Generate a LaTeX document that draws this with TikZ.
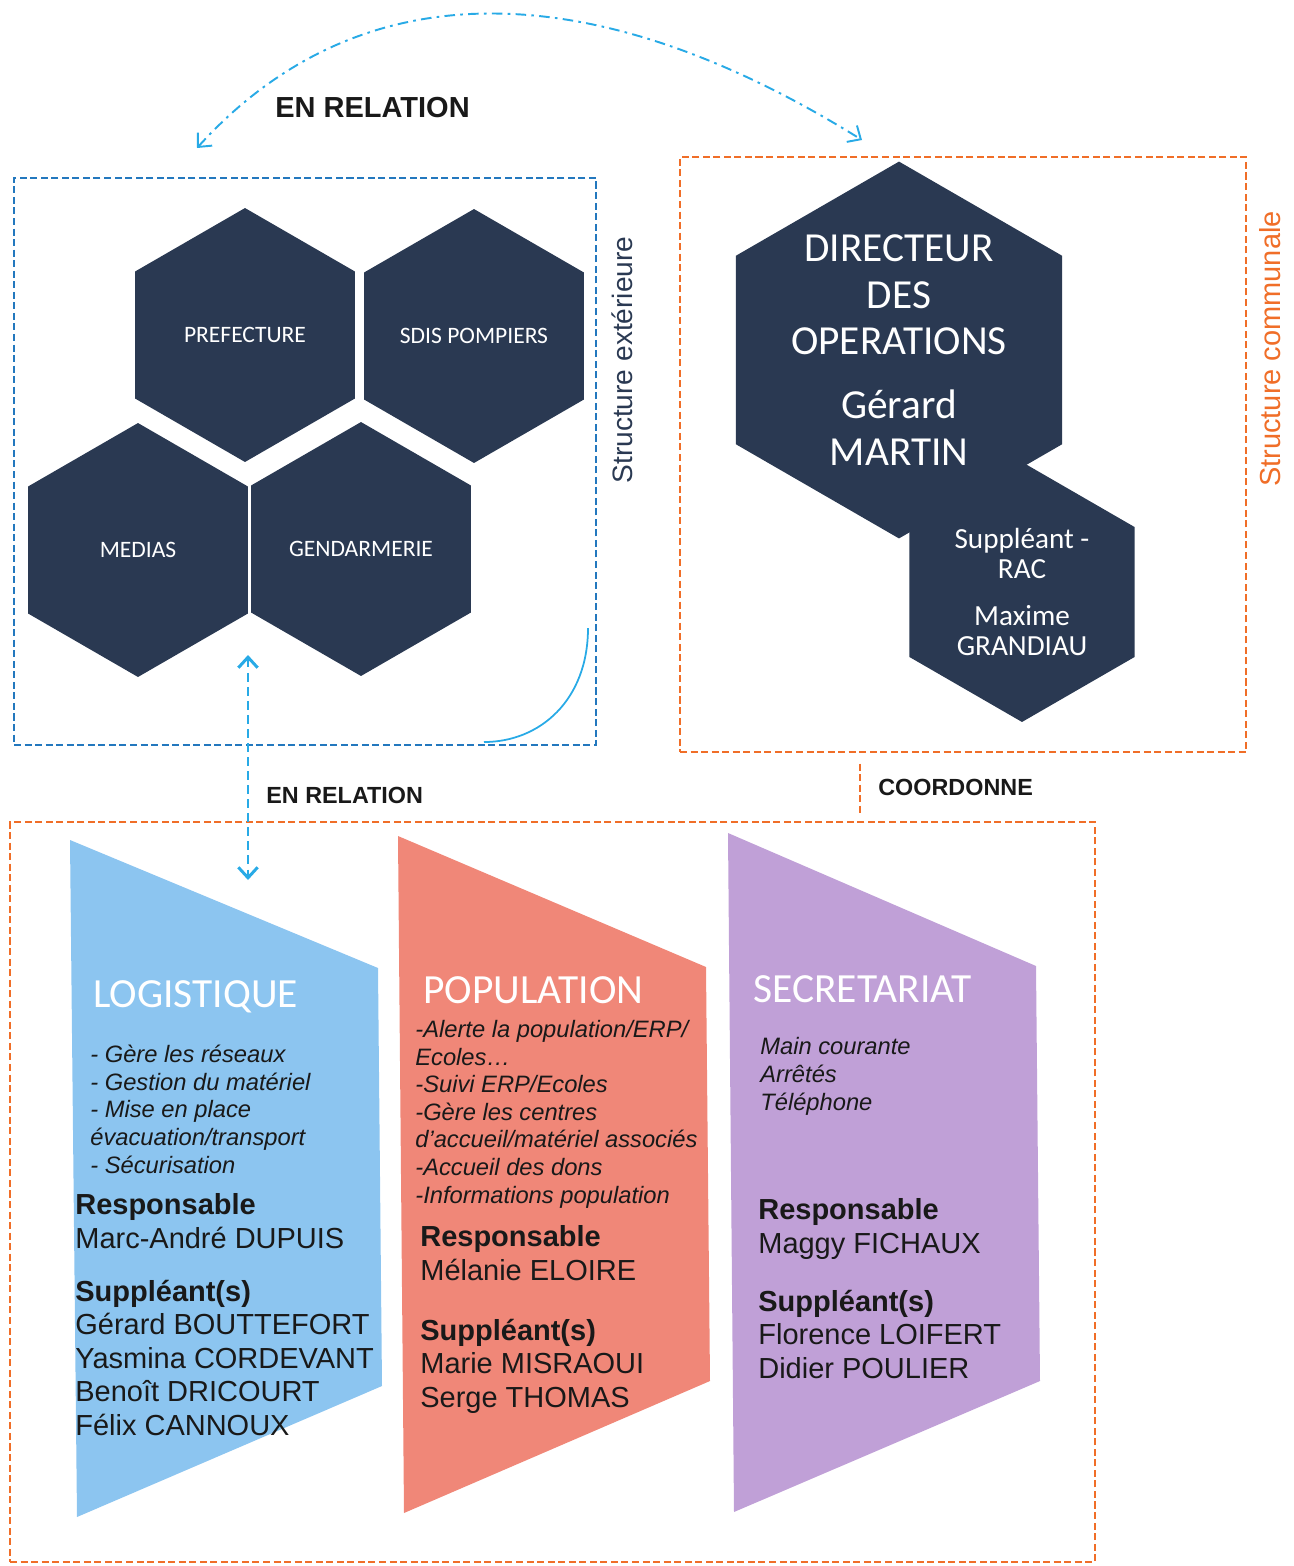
\documentclass[tikz,border=0pt]{standalone}
\usepackage{fontspec}
\setmainfont{Liberation Sans}
\newfontfamily\calibri{Carlito}
\usetikzlibrary{shapes.geometric,arrows.meta,fit}

\definecolor{hexbleu}{RGB}{42,57,82}
\definecolor{cadrebleu}{RGB}{35,120,190}
\definecolor{flechebleu}{RGB}{40,170,230}
\definecolor{cadreorange}{RGB}{240,110,40}
\definecolor{logibleu}{RGB}{140,197,240}
\definecolor{popsaumon}{RGB}{240,135,120}
\definecolor{secmauve}{RGB}{192,160,215}
\definecolor{texte}{RGB}{25,25,25}

\newcommand\hexfont{\calibri\fontsize{13.4}{16}\selectfont}
\newcommand\titrefont{\calibri\fontsize{23.6}{28}\selectfont}

\tikzset{
  >={Straight Barb[length=6pt,width=11pt]},
  hexa/.style={regular polygon, regular polygon sides=6, shape border rotate=30,
    fill=hexbleu, text=white, inner sep=0pt, align=center, minimum size=#1},
  cadre/.style={draw=#1, line width=1.1pt, dash pattern=on 4pt off 2pt, inner sep=0pt},
  titre/.style={font=\titrefont, text=white, inner sep=0pt, anchor=base west},
  liste/.style={font=\itshape\fontsize{13.5}{15.7}\selectfont, text=texte,
    align=left, inner sep=0pt, anchor=base west},
  noms/.style={font=\fontsize{16.5}{19}\selectfont, text=texte,
    align=left, inner sep=0pt, anchor=base west},
  lien/.style={font=\bfseries\fontsize{#1}{#1}\selectfont, text=texte,
    inner sep=0pt, anchor=base west}
}

\begin{document}
\begin{tikzpicture}[x=0.02cm, y=-0.02cm]
  \useasboundingbox (0,0) rectangle (1294,1566);

  % structure exterieure
  \node[cadre=cadrebleu, fit={(14,178) (596,745)}] (ext) {};
  \node[hexa=5.08cm, font=\hexfont] (pref) at (245,335) {PREFECTURE};
  \node[hexa=5.08cm, font=\hexfont] (sdis) at (474,336) {SDIS POMPIERS};
  \node[hexa=5.08cm, font=\hexfont] (medias) at (138,550) {MEDIAS};
  \node[hexa=5.08cm, font=\hexfont] (gend) at (361,549) {GENDARMERIE};
  \draw[flechebleu, line width=1pt] (588,628) .. controls (588,700) and (540,742) .. (484,742);
  \node[rotate=90, text=hexbleu, font=\fontsize{16}{19}\selectfont] (lblext) at (622,360)
    {Structure extérieure};

  % structure communale
  \node[cadre=cadreorange, fit={(680,157) (1246,752)}] (commune) {};
  \node[hexa=7.52cm, font=\calibri\fontsize{23.5}{26.6}\selectfont] (dir) at (899,350)
    {DIRECTEUR\\DES\\OPERATIONS\\[9.7pt]Gérard\\MARTIN};
  \node[hexa=5.2cm, font=\calibri\fontsize{16.6}{17.4}\selectfont] (supp) at (1022,592)
    {Suppléant -\\RAC\\[9pt]Maxime\\GRANDIAU};
  \node[rotate=90, text=cadreorange, font=\fontsize{16.5}{19}\selectfont] (lblcom) at (1270,349)
    {Structure communale};

  % relation entre les deux structures
  \coordinate (relG) at (197,148);
  \coordinate (relD) at (862,140);
  \draw[flechebleu, line width=1.1pt, dash pattern=on 6pt off 3pt on 1.5pt off 3pt, <->]
    (relG) .. controls (362,-34) and (597,-25) .. (relD);
  \node[lien=16.5] (rel1) at (275,117) {EN RELATION};

  % cellules
  \node[cadre=cadreorange, fit={(10,822) (1095,1562)}] (cellule) {};
  \coordinate (coord) at (860,0);
  \draw[cadreorange, line width=1.1pt, dash pattern=on 4pt off 2pt, shorten <=6pt, shorten >=4pt]
    (commune.south -| coord) -- (cellule.north -| coord);
  \node[lien=13.3] (coordonne) at (878,795) {COORDONNE};

  % logistique (noeuds places sur la derniere ligne)
  \fill[logibleu] (70,840) -- (378,968) -- (382,1386) -- (77,1517) -- cycle;
  \node[titre] (logi) at (93,1007) {LOGISTIQUE};
  \node[liste] (logiliste) at (90,1173) {- Gère les réseaux\\- Gestion du matériel\\- Mise en place\\évacuation/transport\\- Sécurisation};
  \node[noms] (logiresp) at (75,1248) {\textbf{Responsable}\\Marc-André DUPUIS};
  \node[noms] (logisupp) at (75,1435) {\textbf{Suppléant(s)}\\Gérard BOUTTEFORT\\Yasmina CORDEVANT\\Benoît DRICOURT\\Félix CANNOUX};

  % population
  \fill[popsaumon] (398,836) -- (706,967) -- (710,1381) -- (404,1513) -- cycle;
  \node[titre] (pop) at (423,1003) {POPULATION};
  \node[liste] (popliste) at (415,1203) {-Alerte la population/ERP/\\Ecoles…\\-Suivi ERP/Ecoles\\-Gère les centres\\d’accueil/matériel associés\\-Accueil des dons\\-Informations population};
  \node[noms] (popresp) at (420,1280) {\textbf{Responsable}\\Mélanie ELOIRE};
  \node[noms] (popsupp) at (420,1407) {\textbf{Suppléant(s)}\\Marie MISRAOUI\\Serge THOMAS};

  % secretariat
  \fill[secmauve] (728,833) -- (1036,966) -- (1040,1381) -- (734,1512) -- cycle;
  \node[titre] (sec) at (753,1002) {SECRETARIAT};
  \node[liste] (secliste) at (760,1110) {Main courante\\Arrêtés\\Téléphone};
  \node[noms] (secresp) at (758,1253) {\textbf{Responsable}\\Maggy FICHAUX};
  \node[noms] (secsupp) at (758,1378) {\textbf{Suppléant(s)}\\Florence LOIFERT\\Didier POULIER};

  % relation exterieur / cellules
  \coordinate (relH) at (248,655);
  \coordinate (relB) at (248,880);
  \draw[flechebleu, line width=1.7pt, dash pattern=on 5pt off 3pt, <->] (relH) -- (relB);
  \node[lien=13.3] (rel2) at (266,803) {EN RELATION};
\end{tikzpicture}
\end{document}
